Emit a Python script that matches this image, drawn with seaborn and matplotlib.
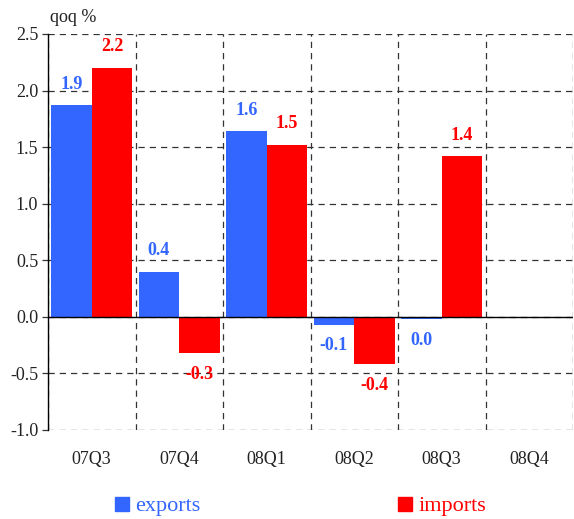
import numpy as np
import pandas as pd
import matplotlib
matplotlib.use("Agg")
import matplotlib.pyplot as plt
from matplotlib.lines import Line2D
import seaborn as sns

quarters = ["07Q3", "07Q4", "08Q1", "08Q2", "08Q3", "08Q4"]
exports = [1.87, 0.40, 1.64, -0.07, -0.02, np.nan]
imports = [2.20, -0.32, 1.52, -0.42, 1.42, np.nan]
series_names = ["exports", "imports"]
y_ticks = [-1.0, -0.5, 0.0, 0.5, 1.0, 1.5, 2.0, 2.5]

palette = {"exports": "#3366FF", "imports": "#FF0000"}

df = pd.DataFrame({
    "quarter": quarters * 2,
    "series": ["exports"] * len(quarters) + ["imports"] * len(quarters),
    "value": exports + imports,
})

sns.set_theme(style="white")
plt.rcParams["font.family"] = ["Liberation Serif", "DejaVu Serif"]

fig = plt.figure(figsize=(5.74, 5.19), dpi=100)
ax = fig.add_axes([48 / 574, 1 - 430 / 519, 525 / 574, 396 / 519])

sns.barplot(data=df, x="quarter", y="value", hue="series", order=quarters,
            hue_order=series_names, palette=palette, width=0.93,
            saturation=1, errorbar=None, ax=ax, legend=False,
            linewidth=0, edgecolor="none")

ax.set_xlim(-0.5, len(quarters) - 0.5)
ax.set_ylim(-1.0, 2.5)
ax.set_yticks(y_ticks)
ax.set_yticklabels([f"{t:.1f}" for t in y_ticks], fontsize=13, color="#222222")
ax.set_xticks(range(len(quarters)))
ax.set_xticklabels(quarters, fontsize=13, color="#222222")
ax.set_xlabel("")
ax.set_ylabel("")

# category separators and value grid, dashed
ax.set_xticks(np.arange(-0.5, len(quarters), 1.0), minor=True)
ax.grid(False)
dash = dict(color="#333333", linewidth=0.9, linestyle=(0, (5, 4)))
ax.grid(True, which="minor", axis="x", **dash)
ax.grid(True, which="major", axis="y", **dash)
ax.set_axisbelow(True)
ax.tick_params(axis="x", which="both", length=0, pad=15)
ax.tick_params(axis="y", which="major", direction="out", length=4,
               width=0.9, color="#333333", left=True, pad=3)

for side in ["top", "right", "bottom"]:
    ax.spines[side].set_visible(False)
ax.spines["left"].set_color("black")
ax.spines["left"].set_linewidth(1.0)
ax.axhline(0, color="black", linewidth=1.0, zorder=3)

# value labels at the end of each bar
for container, name in zip(ax.containers, series_names):
    for bar in container:
        h = bar.get_height()
        if np.isnan(h):
            continue
        txt = f"{h:.1f}"
        if txt == "-0.0":
            txt = "0.0"
        x = bar.get_x() + bar.get_width() / 2
        off = 9 if h >= 0 else -9
        ax.annotate(txt, (x, h), xytext=(0, off), textcoords="offset points",
                    ha="center", va="bottom" if h >= 0 else "top",
                    fontsize=13, fontweight="bold", color=palette[name])

fig.text(50 / 574, 1 - 18 / 519, "qoq %", fontsize=13, color="#222222",
         ha="left", va="center")

handles = [Line2D([], [], marker="s", linestyle="", markersize=10,
                  markerfacecolor=palette[n], markeredgecolor=palette[n])
           for n in series_names]
fig.legend(handles, series_names, loc="center left", ncol=2,
           bbox_to_anchor=(114 / 574, 1 - 506 / 519), frameon=False,
           fontsize=16, handlelength=0.7, handletextpad=0.25,
           columnspacing=8.85, labelcolor=[palette[n] for n in series_names],
           borderaxespad=0, borderpad=0)

fig.savefig("out.png", dpi=100)
